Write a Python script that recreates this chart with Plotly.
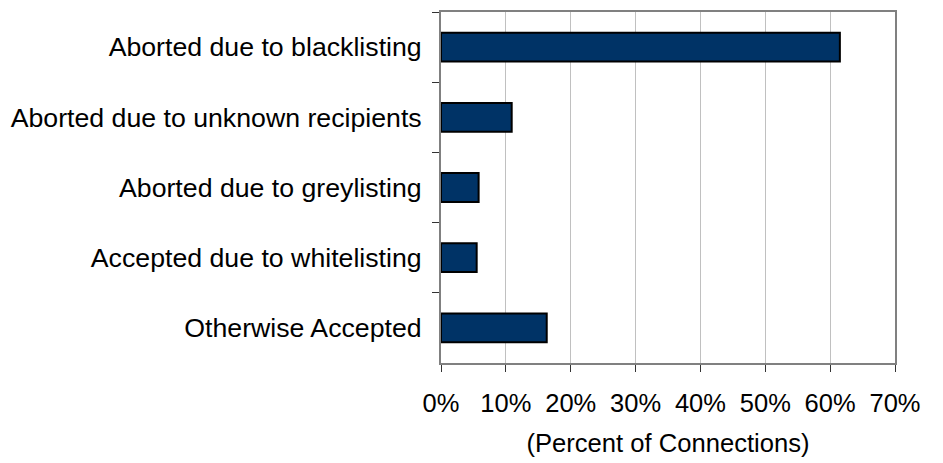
import plotly.graph_objects as go

# Connection outcomes (percent of connections)
categories = [
    "Aborted due to blacklisting",
    "Aborted due to unknown recipients",
    "Aborted due to greylisting",
    "Accepted due to whitelisting",
    "Otherwise Accepted",
]
percents = [61.5, 10.9, 5.8, 5.5, 16.3]

x_ticks = [0, 10, 20, 30, 40, 50, 60, 70]

fig = go.Figure()
fig.add_trace(go.Bar(
    x=percents,
    y=categories,
    orientation="h",
    marker=dict(color="#003366", line=dict(color="#000000", width=2)),
    width=0.41,
))

# page body adds an 8px offset, margins compensate for it
fig.update_layout(
    width=943,
    height=463,
    margin=dict(l=433, r=56, t=4, b=108),
    paper_bgcolor="white",
    plot_bgcolor="white",
    font=dict(family="Liberation Sans, Arial, sans-serif", size=25, color="#000000"),
    showlegend=False,
    xaxis=dict(
        range=[0, 70],
        tickvals=x_ticks,
        ticktext=[f"{v}%" for v in x_ticks],
        showgrid=True,
        gridcolor="#c0c0c0",
        gridwidth=1,
        ticks="outside",
        ticklen=7,
        tickcolor="#333333",
        showline=True,
        linecolor="#808080",
        linewidth=2,
        mirror=True,
        zeroline=False,
        automargin=False,
        tickfont=dict(size=25.5),
        ticklabelstandoff=9,
        title=dict(text="(Percent of Connections)", font=dict(size=25.6), standoff=18),
    ),
    yaxis=dict(
        autorange="reversed",
        ticks="outside",
        tickson="boundaries",
        ticklen=7,
        tickcolor="#333333",
        showline=True,
        linecolor="#808080",
        linewidth=2,
        mirror=True,
        showgrid=False,
        automargin=False,
        tickfont=dict(size=26.7),
        ticklabelstandoff=12,
    ),
)

fig.write_html("out.html")
